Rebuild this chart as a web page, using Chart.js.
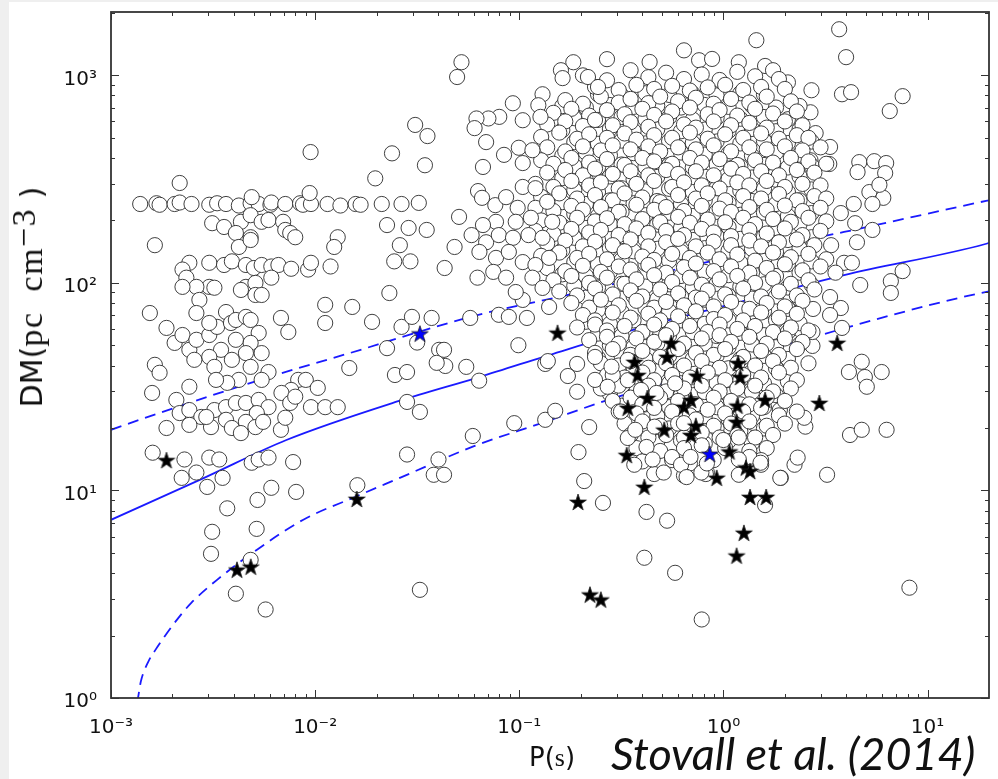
<!DOCTYPE html>
<html>
<head>
<meta charset="utf-8">
<title>P-DM diagram</title>
<script src="https://cdn.jsdelivr.net/npm/chart.js@4.4.0/dist/chart.umd.min.js"></script>
<style>
    html, body { margin: 0; padding: 0; background: #efefef; }
    #sheet { position: absolute; left: 9px; top: 2px; width: 989px; height: 777px; background: #fff; }
    #plot { position: absolute; left: 0; top: 0; }
    .txt { position: absolute; white-space: nowrap; color: #111; }
    .sans { font-family: 'DejaVu Sans', sans-serif; }
    .serif { font-family: 'Liberation Serif', serif; }
    #ytitle { left: 31px; top: 297px; font-size: 30px; transform: translate(-50%, -50%) rotate(-90deg); }
    #ytitle .serif { font-size: 34px; letter-spacing: 1.5px; }
    #ytitle sup { font-size: 23px; position: relative; top: -7px; vertical-align: top; letter-spacing: 1px; }
    #xtitle { left: 529px; top: 742px; font-size: 26px; }
    #cite { left: 611px; top: 726px; font-size: 45px; font-family: Lato, 'Open Sans', sans-serif; font-style: italic; }
</style>
</head>
<body>
<div id="sheet"></div>
<canvas id="plot" width="998" height="779"></canvas>
<div class="txt" id="ytitle"><span class="sans">DM(</span><span class="serif">pc&nbsp;&nbsp;cm</span><sup class="serif">&minus;3</sup><span class="sans">&nbsp;)</span></div>
<div class="txt" id="xtitle"><span class="sans">P(</span><span class="serif">s</span><span class="sans">)</span></div>
<div class="txt" id="cite">Stovall et al. (2014)</div>
<script>
// axis ticks
const xTickValues = [0.001, 0.01, 0.1, 1, 10];
const xTickLabels = ['10⁻³', '10⁻²', '10⁻¹', '10⁰', '10¹'];
const yTickValues = [1, 10, 100, 1000];
const yTickLabels = ['10⁰', '10¹', '10²', '10³'];
const minorSteps = [2, 3, 4, 5, 6, 7, 8, 9];

// known pulsars [P (s), DM] - millisecond pulsar region
const mspCircles = [
    [0.00139,240],[0.00167,242],[0.00173,238],[0.00205,240],[0.00217,244],[0.00248,240],[0.00303,238],[0.00331,242],
    [0.00366,240],[0.00423,236],[0.00483,242],[0.00529,240],[0.00604,238],[0.0061,244],[0.00714,240],[0.00844,242],
    [0.00872,238],[0.00954,240],[0.0115,240],[0.0133,236],[0.0158,240],[0.0167,238],[0.0212,240],[0.0265,240],[0.0322,243],
    [0.00217,303],[0.0094,271],[0.00489,259],[0.0197,319],[0.0345,369],[0.0238,421],[0.0095,427],[0.0309,577],
    [0.0355,510],[0.0521,1157],[0.0496,982],
    [0.00313,194],[0.00358,186],[0.00433,197],[0.00483,212],[0.00547,197],[0.00591,201],[0.00697,197],[0.00714,180],
    [0.00755,174],[0.00799,166],[0.00483,166],[0.00409,174],[0.00423,149],[0.00483,161],[0.0225,190],[0.0287,184],
    [0.0352,180],[0.0129,166],[0.0124,149],[0.026,152],[0.00164,152],
    [0.00242,125],[0.00224,116],[0.00303,125],[0.00358,122],[0.00391,127],[0.00458,122],[0.00501,118],[0.00547,122],
    [0.0061,120],[0.00661,122],[0.00763,117],[0.00924,116],[0.00954,125],[0.0119,120],[0.0244,127],[0.0293,127],[0.0431,118],
    [0.00234,106],[0.00303,95.7],[0.00262,95.7],[0.00224,95.7],[0.00458,95.7],[0.0051,100],[0.0061,106],[0.00321,94.8],
    [0.00271,82.8],[0.0051,87.5],[0.00547,87.5],[0.00433,92.5],[0.0231,89.4],
    [0.00155,71.6],[0.00187,60.7],[0.00205,51.4],[0.00242,47.6],[0.00224,56.1],[0.00262,53.2],[0.00303,56.1],[0.00331,61.4],
    [0.00262,71.6],[0.00303,64.1],[0.00366,72.4],[0.00387,64.1],[0.00409,66.3],[0.00458,68.6],[0.00483,66.3],[0.00529,57.4],
    [0.00483,51.4],[0.00409,53.2],[0.00346,47.6],[0.0068,67.8],[0.00739,58],[0.0112,78.4],[0.0112,64.1],[0.0152,76.6],
    [0.019,64.9],[0.0265,61.4],[0.0298,68.6],[0.0372,67.8],[0.0225,48.5],
    [0.00547,45.9],[0.00458,45.9],[0.00303,44],[0.00256,42.6],[0.00164,40.3],[0.00173,36.9],[0.00321,39.4],[0.00391,42.6],
    [0.00483,39.4],[0.00591,37.2],[0.00547,34.1],[0.00423,34.1],[0.00371,33],[0.00327,34.1],[0.00242,31.6],[0.00209,27.3],
    [0.00159,29.5],[0.00826,34.1],[0.009,34.1],[0.0103,31.2],[0.00763,30.5],[0.00684,29.5],[0.0147,38.9],[0.0246,36],
    [0.0282,37.2],[0.0394,41.2],[0.0428,47.6],
    [0.00217,23.6],[0.00187,20],[0.00242,24.4],[0.00277,22.6],[0.00321,24.4],[0.00366,25.2],[0.00409,26.4],[0.00458,26.4],
    [0.00529,27.3],[0.00591,25.2],[0.00518,23.6],[0.00458,21.4],[0.00366,21.9],[0.00309,20.2],[0.00293,22.6],[0.00242,20.7],
    [0.00391,20],[0.00433,18.9],[0.0051,20.2],[0.00556,21.4],[0.0068,19.6],[0.00714,22.4],[0.00755,26.4],[0.00799,28.3],
    [0.00954,25.2],[0.0112,25.2],[0.0129,25.2],[0.0282,26.7],[0.0326,23.9],
    [0.0016,15.2],[0.00229,14.1],[0.00222,11.5],[0.00262,12.2],[0.00296,10.4],[0.00303,14.4],[0.00339,14.1],[0.00352,11.5],
    [0.00489,13.6],[0.00529,14.1],[0.00591,14.4],[0.0078,13.7],[0.0061,10.3],[0.00807,9.84],[0.0161,10.6],[0.0282,14.9],
    [0.0402,14.1],[0.0381,11.9],[0.0428,11.9],
    [0.00371,8.2],[0.00313,6.32],[0.00517,6.53],[0.00309,4.95],[0.00483,4.63],[0.00409,3.18],[0.00572,2.67],[0.00522,9.0]
];

// known pulsars between the two groups
const midCircles = [
    [0.0507,208],[0.0482,149],[0.0624,106],[0.0584,170],[0.0628,277],[0.0657,257],[0.0316,51.6],[0.0575,67.8],
    [0.0405,47.6],[0.099,50.1],[0.0794,70.2],[0.0889,68.6],[0.109,67.8],[0.104,82.8],[0.14,76.6],
    [0.093,734],[0.13,811],[0.124,718],[0.127,631],[0.104,608],[0.0798,631],[0.0706,620],[0.0617,620],[0.0604,557],
    [0.0688,477],[0.0842,414],[0.0995,448],[0.116,436],[0.104,378],[0.0664,362],[0.217,982],[0.243,879],[0.269,1197],
    [0.184,1157],[0.16,1059],[0.163,970],
    [0.0763,237],[0.0862,259],[0.0982,230],[0.104,290],[0.12,286],[0.137,246],[0.114,206],[0.0961,197],[0.0769,197],
    [0.0664,190],[0.0688,157],[0.0794,170],[0.0932,165],[0.111,170],[0.13,165],[0.145,197],[0.0638,141],[0.0769,132],
    [0.0889,141],[0.104,126],[0.12,122],[0.14,132],[0.0746,113],[0.0862,106],[0.0961,90.4],[0.116,106],[0.13,94.6],
    [0.0434,39.8],[0.055,39.4],[0.0636,33.8],[0.134,40.7],[0.192,40.7],[0.173,35.6],[0.192,29.9],[0.235,34.1],
    [0.271,31.6],[0.0945,21.1],[0.134,21.9],[0.15,24.2],[0.22,20.2],[0.0592,18.3],[0.195,15.3],[0.208,11.1],
    [0.257,8.71],[0.42,7.88],[0.53,7.15],[0.41,4.74],[0.58,4.01],[0.0326,3.32],[0.138,42],[0.283,39.5],[0.34,34]
];

// known pulsars - the dense normal-pulsar cloud
const cloudCircles = [
    [0.641,1320],[0.76,1183],[0.88,1200],[1.19,1157],[1.45,1477],[1.6,1110],[1.75,1059],[0.435,1160],[2.07,925],
    [0.205,1000],[0.269,947],[0.351,1059],[0.429,980],[0.524,1030],[0.641,960],[0.783,1010],[0.958,950],[1.17,1040],[1.43,990],[1.87,960],
    [0.235,880],[0.307,850],[0.375,900],[0.458,860],[0.561,890],[0.685,845],[0.838,875],[1.02,900],[1.25,850],[1.53,880],[2.0,860],
    [0.168,760],[0.205,730],[0.251,790],[0.307,740],[0.351,770],[0.429,735],[0.49,790],[0.6,750],[0.733,780],[0.896,730],[1.09,770],[1.34,740],[1.63,790],[2.14,750],
    [0.147,660],[0.18,690],[0.22,640],[0.269,680],[0.328,650],[0.401,690],[0.458,645],[0.561,670],[0.685,700],[0.838,650],[0.958,680],[1.17,640],[1.43,690],[1.75,655],[2.29,670],
    [0.137,580],[0.168,600],[0.205,570],[0.235,610],[0.287,575],[0.351,595],[0.429,565],[0.524,600],[0.641,580],[0.733,560],[0.896,600],[1.09,575],[1.34,590],[1.63,560],[2.0,600],[2.44,575],
    [0.128,505],[0.157,530],[0.192,495],[0.22,520],[0.269,500],[0.328,525],[0.375,490],[0.458,515],[0.561,500],[0.685,530],[0.838,495],[1.02,520],[1.25,500],[1.53,525],[1.87,495],[2.29,515],[2.61,500],
    [0.137,450],[0.168,430],[0.205,455],[0.251,435],[0.287,460],[0.351,440],[0.429,455],[0.49,430],[0.6,450],[0.733,440],[0.896,460],[1.09,430],[1.34,450],[1.63,440],[2.0,455],[2.44,435],[2.99,450],
    [0.128,390],[0.147,375],[0.18,400],[0.22,380],[0.269,395],[0.328,370],[0.401,400],[0.458,385],[0.561,375],[0.685,400],[0.783,380],[0.958,395],[1.17,370],[1.43,390],[1.75,380],[2.14,400],[2.61,385],[3.19,375],
    [0.137,340],[0.168,350],[0.205,330],[0.235,355],[0.287,335],[0.351,345],[0.429,330],[0.524,350],[0.6,335],[0.733,345],[0.896,330],[1.09,355],[1.25,335],[1.53,345],[1.87,330],[2.29,350],[2.79,340],
    [0.12,300],[0.147,290],[0.18,310],[0.22,295],[0.251,305],[0.307,285],[0.375,300],[0.458,310],[0.561,290],[0.641,305],[0.783,295],[0.958,285],[1.17,305],[1.34,295],[1.63,310],[2.0,290],[2.44,300],[2.99,295],
    [0.128,260],[0.157,270],[0.192,255],[0.235,265],[0.287,250],[0.328,270],[0.401,258],[0.49,245],[0.6,265],[0.733,255],[0.838,270],[1.02,250],[1.25,262],[1.53,255],[1.87,268],[2.29,250],[2.79,262],[3.19,255],
    [0.12,230],[0.147,222],[0.18,235],[0.205,225],[0.251,232],[0.307,220],[0.375,238],[0.458,225],[0.524,232],[0.641,222],[0.783,235],[0.958,228],[1.09,220],[1.34,232],[1.63,225],[2.0,236],[2.44,222],[2.99,230],
    [0.128,200],[0.157,195],[0.192,206],[0.235,198],[0.269,205],[0.328,192],[0.401,203],[0.49,196],[0.6,208],[0.685,195],[0.838,202],[1.02,196],[1.25,206],[1.43,192],[1.75,203],[2.14,197],[2.61,206],[3.19,198],
    [0.12,178],[0.147,172],[0.18,182],[0.22,175],[0.251,180],[0.307,170],[0.375,183],[0.429,174],[0.524,178],[0.641,170],[0.783,182],[0.896,175],[1.09,168],[1.34,180],[1.63,173],[2.0,183],[2.44,170],[2.99,178],
    [0.137,155],[0.168,160],[0.205,150],[0.235,158],[0.287,152],[0.351,162],[0.429,150],[0.524,157],[0.6,163],[0.733,150],[0.896,158],[1.09,152],[1.34,160],[1.53,150],[1.87,157],[2.29,162],[2.79,152],
    [0.128,135],[0.157,140],[0.192,132],[0.22,138],[0.269,130],[0.328,142],[0.401,134],[0.458,129],[0.561,138],[0.685,132],[0.838,140],[0.958,130],[1.17,137],[1.43,128],[1.75,140],[2.14,133],[2.61,138],[3.19,130],
    [0.137,118],[0.168,114],[0.205,121],[0.251,113],[0.307,120],[0.351,116],[0.429,122],[0.524,112],[0.641,119],[0.733,124],[0.896,114],[1.09,120],[1.34,112],[1.63,118],[2.0,123],[2.44,115],[2.99,120],
    [0.147,103],[0.18,108],[0.22,100],[0.269,106],[0.328,99],[0.375,104],[0.458,109],[0.561,101],[0.685,106],[0.783,98],[0.958,104],[1.17,108],[1.43,100],[1.75,105],[2.14,99],[2.61,103],
    [0.157,91],[0.192,87],[0.235,94],[0.287,88],[0.351,92],[0.401,86],[0.49,93],[0.6,89],[0.733,85],[0.838,92],[1.02,88],[1.25,94],[1.53,86],[1.87,91],[2.29,87],[2.79,93],
    [0.18,80],[0.22,76],[0.251,83],[0.307,78],[0.375,82],[0.458,76],[0.524,81],[0.641,78],[0.783,84],[0.896,77],[1.09,81],[1.34,75],[1.63,80],[2.0,77],[2.44,82],
    [0.205,70],[0.235,66],[0.287,72],[0.351,68],[0.429,71],[0.49,66],[0.6,69],[0.733,73],[0.896,67],[1.02,70],[1.25,66],[1.53,72],[1.87,68],[2.29,71],
    [0.192,61],[0.235,63],[0.269,59],[0.328,62],[0.401,58],[0.458,63],[0.561,60],[0.685,62],[0.838,58],[0.958,63],[1.17,60],[1.43,62],[1.75,58],[2.14,61],[2.61,59],
    [0.22,53],[0.269,55],[0.307,51],[0.375,54],[0.458,52],[0.524,56],[0.641,51],[0.783,54],[0.958,56],[1.09,52],[1.34,55],[1.63,51],[2.0,54],[2.44,52],
    [0.235,46],[0.287,48],[0.351,45],[0.401,47],[0.49,44],[0.6,48],[0.733,46],[0.896,45],[1.02,48],[1.25,44],[1.53,47],[1.87,45],[2.29,48],
    [0.251,41],[0.307,40],[0.351,42],[0.429,39],[0.524,41],[0.641,40],[0.783,42],[0.958,39],[1.17,41],[1.43,40],[1.75,42],[2.14,39],[2.61,41],
    [0.269,36],[0.328,35],[0.401,37],[0.458,34],[0.561,36],[0.685,35],[0.838,37],[1.02,34],[1.25,36],[1.53,35],[1.87,37],[2.29,34],
    [0.251,31],[0.307,32],[0.375,30],[0.429,32],[0.524,30],[0.641,31],[0.783,32],[0.958,30],[1.17,31],[1.43,32],[1.75,30],[2.14,31],
    [0.287,27],[0.351,28],[0.401,26],[0.49,28],[0.6,27],[0.733,26],[0.896,28],[1.09,27],[1.34,26],[1.63,28],[2.0,27],
    [0.307,24],[0.375,23.5],[0.458,25],[0.561,24],[0.685,23],[0.838,24.5],[1.02,23.5],[1.25,24],[1.53,25],[1.87,23],[2.29,24],
    [0.328,21],[0.401,21.5],[0.49,20.5],[0.6,21],[0.733,22],[0.896,20.5],[1.09,21],[1.34,21.5],[1.63,20.5],[2.0,21],
    [0.351,18.5],[0.429,18],[0.524,18.5],[0.641,18],[0.783,19],[0.958,18],[1.17,18.5],[1.43,18],[1.75,18.5],
    [0.375,16],[0.49,15.5],[0.641,16],[0.783,16.5],[1.02,16],[1.34,15.5],[1.63,16],
    [0.401,13.8],[0.561,14],[0.685,13.5],[0.896,14],[1.25,13.6],[1.53,14],
    [0.458,12],[0.641,11.8],[0.82,12],[1.19,11.9],[1.9,11.5],
    [0.235,44],[0.287,36],[0.34,42.6],[0.315,24],[0.34,17.9],[0.37,19.6],[0.42,16.2],[0.366,13.3],[0.45,14.1],
    [0.46,20.3],[0.56,14.5],[0.51,12.2],[0.62,13.3],[0.66,11.6],[0.395,30.5],[0.47,29.5],[0.58,32.8],[0.64,21.1],
    [0.69,14.5],[0.78,12.2],[0.83,13.5],[1.0,17.5],[1.19,18],[1.34,14.5],[1.52,13.6],[1.19,14.1]
];

// more of the cloud, lying between the points above
const cloudFill = [
    [0.243,811],[0.317,800],[0.415,820],[0.542,805],[0.708,815],[0.926,800],[1.21,820],[1.58,810],
    [0.1625,711],[0.212,700],[0.278,720],[0.363,705],[0.474,715],[0.62,700],[0.81,720],[1.06,705],[1.38,715],[1.81,700],[2.36,712],
    [0.186,622],[0.243,610],[0.317,630],[0.415,615],[0.542,628],[0.708,612],[0.926,625],[1.21,618],[1.58,630],[2.07,615],
    [0.1625,545],[0.212,535],[0.278,552],[0.363,540],[0.474,550],[0.62,538],[0.81,548],[1.06,540],[1.38,552],[1.81,538],[2.36,548],
    [0.186,477],[0.243,468],[0.317,485],[0.415,470],[0.542,482],[0.708,472],[0.926,480],[1.21,470],[1.58,485],[2.07,472],[2.7,480],
    [0.1625,410],[0.212,425],[0.278,412],[0.363,422],[0.474,410],[0.62,425],[0.81,415],[1.06,420],[1.38,410],[1.81,425],[2.36,415],
    [0.186,366],[0.243,360],[0.317,372],[0.415,362],[0.542,370],[0.708,360],[0.926,372],[1.21,364],[1.58,370],[2.07,360],[2.7,368],
    [0.1625,320],[0.212,312],[0.278,326],[0.363,315],[0.474,324],[0.62,312],[0.81,325],[1.06,316],[1.38,322],[1.81,314],[2.36,326],
    [0.186,280],[0.243,274],[0.317,286],[0.415,276],[0.542,284],[0.708,274],[0.926,286],[1.21,278],[1.58,284],[2.07,274],[2.7,282],
    [0.1625,245],[0.212,240],[0.278,250],[0.363,242],[0.474,248],[0.62,240],[0.81,250],[1.06,243],[1.38,248],[1.81,240],[2.36,250],
    [0.186,215],[0.243,210],[0.317,220],[0.415,212],[0.542,218],[0.708,210],[0.926,220],[1.21,213],[1.58,218],[2.07,210],[2.7,217],
    [0.1625,188],[0.212,184],[0.278,192],[0.363,185],[0.474,191],[0.62,184],[0.81,192],[1.06,186],[1.38,190],[1.81,184],[2.36,192],
    [0.186,165],[0.243,161],[0.317,168],[0.415,162],[0.542,167],[0.708,161],[0.926,168],[1.21,163],[1.58,167],[2.07,161],[2.7,166],
    [0.1625,144],[0.212,141],[0.278,147],[0.363,142],[0.474,146],[0.62,141],[0.81,147],[1.06,143],[1.38,146],[1.81,141],[2.36,147],
    [0.186,126],[0.243,123],[0.317,129],[0.415,124],[0.542,128],[0.708,123],[0.926,129],[1.21,125],[1.58,128],[2.07,123],[2.7,127],
    [0.1625,110],[0.212,108],[0.278,113],[0.363,109],[0.474,112],[0.62,108],[0.81,113],[1.06,109],[1.38,112],[1.81,108],[2.36,112],
    [0.186,97],[0.243,95],[0.317,99],[0.415,96],[0.542,98.5],[0.708,95],[0.926,99],[1.21,96],[1.58,98.5],[2.07,95],[2.7,98],
    [0.212,85],[0.278,83],[0.363,86.5],[0.474,83.5],[0.62,86],[0.81,83],[1.06,86.5],[1.38,84],[1.81,86],[2.36,83.5],
    [0.243,74],[0.317,72.5],[0.415,75.5],[0.542,73],[0.708,75.5],[0.926,72.5],[1.21,75],[1.58,73],[2.07,75],
    [0.212,65],[0.278,63.5],[0.363,66],[0.474,64],[0.62,66],[0.81,63.5],[1.06,66],[1.38,64],[1.81,66],[2.36,64],
    [0.243,57],[0.317,55.5],[0.415,58],[0.542,56],[0.708,58],[0.926,55.5],[1.21,57.5],[1.58,56],[2.07,58],
    [0.278,50],[0.363,49],[0.474,51],[0.62,49],[0.81,51],[1.06,49],[1.38,50.5],[1.81,49],[2.36,50.5],
    [0.243,43.5],[0.317,44.5],[0.415,43],[0.542,44.5],[0.708,43],[0.926,44.5],[1.21,43],[1.58,44.5],[2.07,43],
    [0.278,38],[0.363,39],[0.474,37.5],[0.62,38.8],[0.81,37.5],[1.06,38.8],[1.38,37.5],[1.81,38.8],
    [0.317,33.3],[0.415,34],[0.542,32.8],[0.708,34],[0.926,32.8],[1.21,34],[1.58,32.8],[2.07,33.5],
    [0.278,29.2],[0.363,28.8],[0.474,29.8],[0.62,28.8],[0.81,29.8],[1.06,28.8],[1.38,29.8],[1.81,28.8],
    [0.317,25.6],[0.415,26],[0.542,25.2],[0.708,26],[0.926,25.2],[1.21,26],[1.58,25.2],
    [0.363,22.4],[0.474,22.8],[0.62,22],[0.81,22.8],[1.06,22],[1.38,22.8],
    [0.415,19.6],[0.542,19.9],[0.708,19.3],[0.926,19.9],[1.21,19.3],[1.58,19.9],
    [0.474,17.1],[0.62,17.4],[0.81,16.8],[1.06,17.3],[1.38,16.9]
];

// known pulsars - long periods and outliers
const outerCircles = [
    [3.69,1668],[3.99,1224],[3.81,811],[4.22,830],[7.55,794],[6.53,673],[2.7,848],[2.67,664],[2.83,527],[3.33,452],
    [3.3,374],[2.67,390],[4.63,382],[5.48,386],[6.27,378],[4.54,342],[6.2,338],[5.19,274],[6.07,257],[5.37,240],
    [5.81,297],[4.35,240],[3.76,217],[4.42,194],[5.37,180],[4.51,157],[3.37,152],[3.9,125],[4.26,125],[3.54,112],
    [4.68,97.7],[6.61,102],[7.55,114],[6.61,89.5],[3.76,75.7],[2.75,74.9],[3.33,70],[3.33,85.5],[2.39,59.3],[3.81,60.7],
    [2.73,49.7],[2.73,58],[4.12,37.2],[4.76,41.7],[4.93,35.2],[5.96,37.2],[5.04,31.6],[4.17,18.5],[4.76,19.6],[6.3,19.6],
    [3.22,11.9],[1.91,11.5],[2.23,13.3],[2.31,14.4],[2.52,20.3],[2.49,22.4],[1.89,24.4],[8.15,3.4],[0.783,2.39],
    [1.6,8.5],[0.83,12.2],[1.53,13.3],[1.41,21.1]
];

// new discoveries
const blackStars = [
    [0.00187,14.0],[0.00414,4.15],[0.00484,4.29],[0.016,9.1],[0.154,57.5],[0.194,8.8],[0.222,3.15],[0.251,2.98],
    [0.336,14.8],[0.34,25],[0.367,41.6],[0.38,36],[0.424,27.9],[0.41,10.4],[0.513,19.6],[0.53,44],[0.555,51.4],
    [0.641,25.3],[0.693,27.3],[0.741,35.7],[0.733,20.5],[0.693,18.5],[1.18,41.1],[1.21,35.2],[1.17,25.6],[1.16,21.4],
    [1.07,15.4],[0.927,11.5],[1.29,12.9],[1.35,12.4],[1.6,27.3],[2.95,26.4],[3.61,51.4],[1.35,9.3],[1.62,9.3],
    [1.26,6.25],[1.16,4.85]
];
const blueStars = [[0.0326,57],[0.857,15.0]];

// scattering curves
const solidLine = [[0.001,7.22],[0.00286,11.5],[0.00723,17.5],[0.0258,27.0],[0.0637,35.2],[0.168,47.5],[0.412,61.5],
    [1.445,84.6],[3.9,109],[19.2,154],[20,156]];
const upperDashed = [[0.001,19.6],[0.0019,24.4],[0.0064,36],[0.0167,47.6],[0.0252,54],[0.0617,69.8],[0.155,85.5],
    [0.5,112],[2.07,155],[3.9,176],[18.1,245],[20,250]];
const lowerDashed = [[0.00134,0.95],[0.001356,1.0],[0.0014,1.2],[0.00152,1.49],[0.00166,1.72],[0.00183,1.98],
    [0.00213,2.42],[0.00248,2.88],[0.00332,3.72],[0.00517,5.17],[0.00875,7.23],[0.0158,9.33],[0.026,11.5],
    [0.0596,16.3],[0.134,21.4],[0.254,26.7],[0.9,39],[2.79,55],[19.2,90.4],[20,91]];

const toXY = list => list.map(([x, y]) => ({ x, y }));

function makeStar(fill) {
    const c = document.createElement('canvas');
    c.width = 20;
    c.height = 20;
    const g = c.getContext('2d');
    g.beginPath();
    for (let k = 0; k < 10; k++) {
        const r = k % 2 ? 3.4 : 8.8;
        const a = -Math.PI / 2 + k * Math.PI / 5;
        g.lineTo(10 + r * Math.cos(a), 10.8 + r * Math.sin(a));
    }
    g.closePath();
    g.fillStyle = fill;
    g.fill();
    g.strokeStyle = '#222';
    g.lineWidth = 0.8;
    g.stroke();
    return c;
}

// inward ticks on all four sides plus the frame
const frameTicks = {
    id: 'frameTicks',
    afterDatasetsDraw(chart) {
        const { ctx, chartArea: a, scales: { x, y } } = chart;
        ctx.save();
        ctx.strokeStyle = '#333';
        ctx.lineWidth = 1;
        ctx.beginPath();
        const xTick = (v, len) => {
            const p = Math.round(x.getPixelForValue(v)) + 0.5;
            ctx.moveTo(p, a.bottom); ctx.lineTo(p, a.bottom - len);
            ctx.moveTo(p, a.top); ctx.lineTo(p, a.top + len);
        };
        const yTick = (v, len) => {
            const p = Math.round(y.getPixelForValue(v)) + 0.5;
            ctx.moveTo(a.left, p); ctx.lineTo(a.left + len, p);
            ctx.moveTo(a.right, p); ctx.lineTo(a.right - len, p);
        };
        xTickValues.forEach(v => {
            xTick(v, 8);
            minorSteps.forEach(m => { if (v * m < x.max) xTick(v * m, 4); });
        });
        yTickValues.forEach(v => {
            yTick(v, 8);
            minorSteps.forEach(m => { if (v * m < y.max) yTick(v * m, 4); });
        });
        ctx.stroke();
        ctx.lineWidth = 1.8;
        ctx.strokeRect(a.left, a.top, a.right - a.left, a.bottom - a.top);
        ctx.restore();
    }
};

const circleStyle = {
    pointStyle: 'circle',
    pointRadius: 7.6,
    backgroundColor: '#ffffff',
    borderColor: '#2a2a2a',
    borderWidth: 0.9,
    order: 2,
    clip: 0
};
const curveStyle = {
    showLine: true,
    pointRadius: 0,
    borderColor: '#1a1aff',
    borderWidth: 1.8,
    cubicInterpolationMode: 'monotone',
    order: 3,
    clip: 0
};

new Chart(document.getElementById('plot'), {
    type: 'scatter',
    data: {
        datasets: [
            { ...curveStyle, label: 'scattering', data: toXY(solidLine) },
            { ...curveStyle, label: 'upper', data: toXY(upperDashed), borderDash: [11, 7] },
            { ...curveStyle, label: 'lower', data: toXY(lowerDashed), borderDash: [11, 7] },
            { ...circleStyle, label: 'msp', data: toXY(mspCircles) },
            { ...circleStyle, label: 'mid', data: toXY(midCircles) },
            { ...circleStyle, label: 'cloud', data: toXY(cloudCircles) },
            { ...circleStyle, label: 'cloud fill', data: toXY(cloudFill) },
            { ...circleStyle, label: 'outer', data: toXY(outerCircles) },
            { label: 'new', data: toXY(blackStars), pointStyle: makeStar('#000'), pointRadius: 8, order: 1, clip: 0 },
            { label: 'new (blue)', data: toXY(blueStars), pointStyle: makeStar('#0000ff'), pointRadius: 8, order: 0, clip: 0 }
        ]
    },
    options: {
        responsive: false,
        animation: false,
        devicePixelRatio: 1,
        events: [],
        layout: { padding: { top: 12, right: 2, left: 0, bottom: 0 } },
        plugins: { legend: { display: false }, tooltip: { enabled: false } },
        scales: {
            x: {
                type: 'logarithmic',
                min: 0.001,
                max: 20,
                afterBuildTicks: s => { s.ticks = xTickValues.map(v => ({ value: v })); },
                afterFit: s => { s.height = 81; s.paddingLeft = 0; s.paddingRight = 0; },
                grid: { display: false },
                border: { display: false },
                ticks: {
                    autoSkip: false,
                    maxRotation: 0,
                    padding: 10,
                    color: '#111',
                    font: { family: 'DejaVu Sans', size: 20 },
                    callback: (v, i) => xTickLabels[i]
                }
            },
            y: {
                type: 'logarithmic',
                min: 1,
                max: 2020,
                afterBuildTicks: s => { s.ticks = yTickValues.map(v => ({ value: v })); },
                afterFit: s => { s.width = 111; s.paddingTop = 0; s.paddingBottom = 0; },
                grid: { display: false },
                border: { display: false },
                ticks: {
                    autoSkip: false,
                    padding: 6,
                    labelOffset: 4,
                    color: '#111',
                    font: { family: 'DejaVu Sans', size: 20 },
                    callback: (v, i) => yTickLabels[i]
                }
            }
        }
    },
    plugins: [frameTicks]
});
</script>
</body>
</html>
